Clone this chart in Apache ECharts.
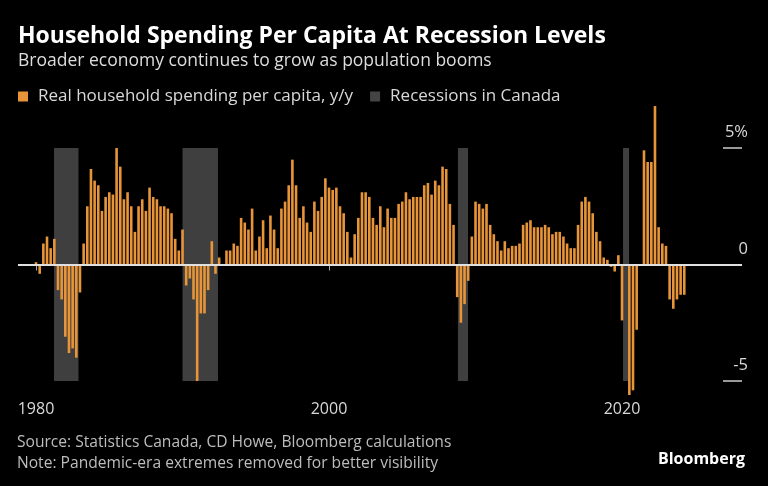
<!DOCTYPE html>
<html>
<head>
<meta charset="utf-8">
<script src="https://cdn.jsdelivr.net/npm/echarts@6/dist/echarts.min.js"></script>
<style>
html,body{margin:0;padding:0;background:#000;}
#chart{width:768px;height:486px;}
</style>
</head>
<body>
<div id="chart"></div>
<script>
// Quarterly data, 1980 Q1 .. 2024 Q2 (null = pandemic-era extreme removed)
const startYear = 1980;
const spending = [
  0.1, -0.4, 0.9, 1.2, 0.7, 1.1, -1.1, -1.5, -3.1, -3.8,
  -3.6, -4.0, -1.2, 0.9, 2.5, 4.1, 3.6, 3.4, 2.3, 2.9,
  3.1, 3.0, 5.0, 4.2, 2.8, 3.1, 2.5, 1.4, 2.5, 2.8,
  2.3, 3.3, 2.9, 2.8, 2.5, 2.5, 2.4, 2.2, 1.1, 0.6,
  1.5, -0.9, -0.6, -1.5, -5.0, -2.1, -2.1, -1.1, 1.0, -0.4,
  0.3, 0.0, 0.6, 0.6, 0.9, 0.8, 2.0, 1.8, 1.5, 2.4,
  0.6, 1.2, 1.9, 0.7, 2.1, 1.5, 0.7, 2.4, 2.7, 3.4,
  4.5, 3.4, 2.0, 2.5, 1.8, 1.4, 2.7, 2.3, 2.9, 3.7,
  3.3, 3.2, 3.3, 2.5, 2.2, 1.4, 0.3, 1.3, 2.0, 3.1,
  3.1, 2.9, 2.0, 1.7, 2.5, 1.6, 2.4, 2.0, 2.0, 2.6,
  2.7, 3.1, 2.8, 2.9, 2.9, 2.9, 3.4, 3.5, 3.0, 3.6,
  3.4, 4.2, 4.1, 2.6, 1.7, -1.4, -2.5, -1.7, -0.7, 1.2,
  2.7, 2.6, 2.4, 2.6, 1.7, 1.3, 1.0, 0.6, 1.0, 0.7,
  0.8, 0.8, 0.9, 1.7, 1.8, 1.9, 1.6, 1.6, 1.6, 1.7,
  1.6, 1.3, 1.4, 1.4, 1.2, 0.9, 0.7, 0.7, 1.7, 2.7,
  2.9, 2.7, 2.2, 1.4, 1.0, 0.3, 0.2, -0.1, -0.3, 0.4,
  -2.4, null, -5.6, -5.4, -2.8, null, 4.9, 4.4, 4.4, 6.8,
  1.6, 0.9, 0.8, -1.5, -1.9, -1.5, -1.3, -1.3
];
// Recessions in Canada (decimal years)
const recessionStart = [1981.23, 1990.0, 2008.8, 2020.07];
const recessionEnd   = [1982.9, 1992.42, 2009.49, 2020.48];
const yTicks = [-5, 0, 5];
const xLabels = [1980, 2000, 2020];

const barData = spending.map((v, i) => [startYear + i / 4, v]);
const areas = recessionStart.map((s, i) => [
  { xAxis: s, yAxis: -5 },
  { xAxis: recessionEnd[i], yAxis: 5 }
]);

const FONT = '"Open Sans", "Liberation Sans", sans-serif';
const chart = echarts.init(document.getElementById('chart'), null, { renderer: 'canvas' });
chart.setOption({
  backgroundColor: '#000000',
  animation: false,
  textStyle: { fontFamily: FONT },
  title: [
    { text: 'Household Spending Per Capita At Recession Levels', left: 13, top: 20,
      textStyle: { color: '#ffffff', fontSize: 23, fontWeight: 'bold', fontFamily: FONT } },
    { text: 'Broader economy continues to grow as population booms', left: 13, top: 47,
      textStyle: { color: '#dddddd', fontSize: 17.5, fontWeight: 'normal', fontFamily: FONT } }
  ],
  legend: {
    left: 13, top: 83, itemWidth: 10, itemHeight: 10, itemGap: 17, icon: 'rect',
    textStyle: { color: '#d8d8d8', fontSize: 17, fontFamily: FONT, padding: [0, 0, 0, 5] },
    data: ['Real household spending per capita, y/y', 'Recessions in Canada']
  },
  grid: { left: 18, right: 26, top: 148, bottom: 105 },
  xAxis: {
    type: 'value', min: 1978.77, max: 2028.19,
    splitLine: { show: false },
    axisLine: { show: false },
    axisTick: { show: true, customValues: xLabels, length: 6, lineStyle: { color: '#aaaaaa', width: 1 } },
    axisLabel: { customValues: xLabels, color: '#d8d8d8', fontSize: 16, margin: 20, fontFamily: FONT,
      formatter: v => String(v) }
  },
  yAxis: {
    type: 'value', position: 'right', min: -5, max: 5, interval: 5,
    splitLine: { show: false },
    axisLine: { show: false },
    axisTick: { show: true, inside: true, length: 19, lineStyle: { color: '#cccccc', width: 1.5 } },
    axisLabel: { inside: true, margin: -6, color: '#d8d8d8', fontSize: 16.5, fontFamily: FONT,
      verticalAlign: 'bottom', padding: [0, 0, 7, 0],
      formatter: v => (v === 5 ? '5%' : String(v)) }
  },
  series: [
    {
      name: 'Real household spending per capita, y/y',
      type: 'bar', z: 3, clip: false,
      barWidth: 2.6,
      itemStyle: { color: '#E8953A' },
      data: barData,
      markLine: {
        silent: true, symbol: 'none', label: { show: false },
        lineStyle: { color: '#e0e0e0', width: 2, type: 'solid' },
        data: [{ yAxis: 0 }]
      }
    },
    {
      name: 'Recessions in Canada',
      type: 'line', z: 1, data: [],
      itemStyle: { color: '#444444' },
      markArea: { silent: true, itemStyle: { color: '#3f3f3f' }, data: areas }
    }
  ],
  graphic: [
    { type: 'text', left: 17, top: 435, style: { text: 'Source: Statistics Canada, CD Howe, Bloomberg calculations', fill: '#bdbdbd', fontSize: 15.6, fontFamily: FONT } },
    { type: 'text', left: 17, top: 456, style: { text: 'Note: Pandemic-era extremes removed for better visibility', fill: '#bdbdbd', fontSize: 15.6, fontFamily: FONT } },
    { type: 'text', right: 23, top: 451, style: { text: 'Bloomberg', fill: '#ffffff', fontSize: 16, fontWeight: 'bold', fontFamily: FONT } }
  ]
});
</script>
</body>
</html>
